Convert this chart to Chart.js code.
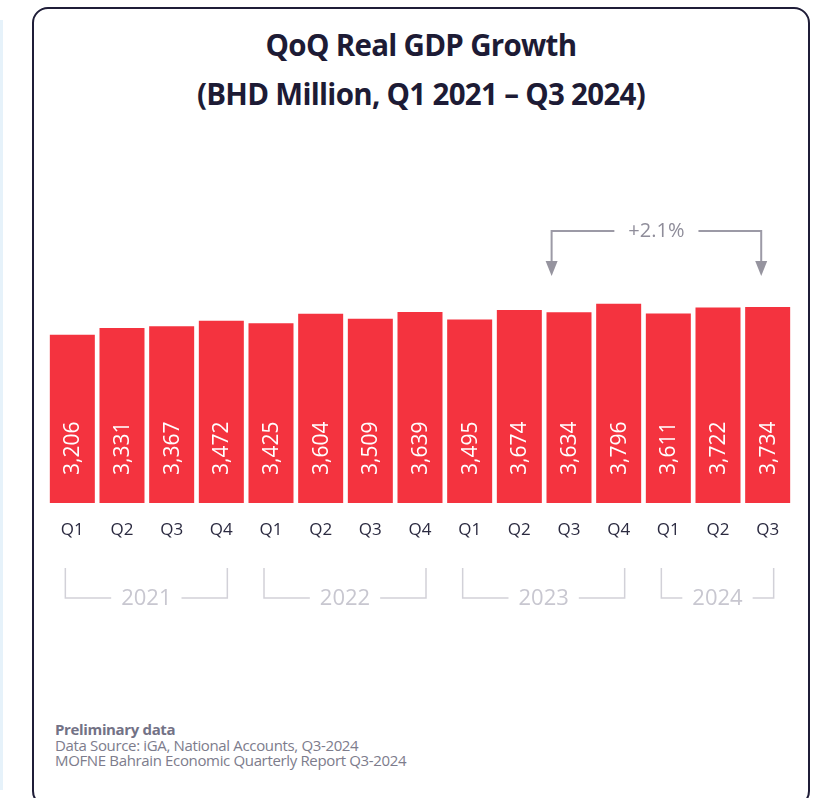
<!DOCTYPE html>
<html>
<head>
<meta charset="utf-8">
<script src="https://cdn.jsdelivr.net/npm/chart.js@4.4.1/dist/chart.umd.min.js"></script>
<style>
    html, body { margin: 0; padding: 0; background: #fff; width: 825px; height: 798px; overflow: hidden; }
    body { position: relative; font-family: "Open Sans", sans-serif; }
    .side-line { position: absolute; left: 0; top: 20px; width: 3px; height: 770px; background: #e6f2fa; }
    .card {
        position: absolute; left: 32px; top: 7px; width: 778px; height: 800px;
        box-sizing: border-box; border: 2.5px solid #1f1d38; border-radius: 16px;
    }
    .title {
        position: absolute; left: 32px; width: 778px; top: 20px; text-align: center;
        color: #1d1b35; font-weight: 700; font-size: 29.5px; line-height: 49px; letter-spacing: -0.7px;
    }
    .footer {
        position: absolute; left: 55px; top: 722px; color: #7d7c8c;
        font-size: 15px; line-height: 15.5px; letter-spacing: -0.35px;
    }
    .footer b { color: #737286; }
    canvas { position: absolute; left: 0; top: 0; }
</style>
</head>
<body>
<div class="side-line"></div>
<div class="card"></div>
<div class="title">QoQ Real GDP Growth<br>(BHD Million, Q1 2021 – Q3 2024)</div>
<div class="footer">
    <b>Preliminary data</b><br>
    Data Source: iGA, National Accounts, Q3-2024<br>
    MOFNE Bahrain Economic Quarterly Report Q3-2024
</div>
<canvas id="gdp-chart" width="825" height="798"></canvas>
<script>
const quarters = ['Q1', 'Q2', 'Q3', 'Q4', 'Q1', 'Q2', 'Q3', 'Q4', 'Q1', 'Q2', 'Q3', 'Q4', 'Q1', 'Q2', 'Q3'];
const gdpValues = [3206, 3331, 3367, 3472, 3425, 3604, 3509, 3639, 3495, 3674, 3634, 3796, 3611, 3722, 3734];
const years = ['2021', '2022', '2023', '2024'];
const quartersPerYear = [4, 4, 4, 3];
const growthFrom = 10;
const growthTo = 14;
const growthLabel = '+2.1%';

const barColor = '#F4333F';

// white value labels, written upwards inside each bar
const barLabels = {
    id: 'barLabels',
    afterDatasetsDraw(chart) {
        const ctx = chart.ctx;
        const base = chart.scales.y.getPixelForValue(0);
        ctx.save();
        ctx.fillStyle = '#ffffff';
        ctx.font = '400 21px "Open Sans"';
        ctx.textAlign = 'left';
        ctx.textBaseline = 'middle';
        chart.getDatasetMeta(0).data.forEach((bar, i) => {
            ctx.save();
            ctx.translate(bar.x + 1, base - 28);
            ctx.rotate(-Math.PI / 2);
            ctx.fillText(gdpValues[i].toLocaleString('en-US'), 0, 0);
            ctx.restore();
        });
        ctx.restore();
    }
};

// year brackets under the quarter ticks
const yearBrackets = {
    id: 'yearBrackets',
    afterDraw(chart) {
        const ctx = chart.ctx;
        const x = chart.scales.x;
        const top = 568, bottom = 598;
        ctx.save();
        ctx.strokeStyle = '#d2d1d8';
        ctx.lineWidth = 1.5;
        ctx.fillStyle = '#c8c7d0';
        ctx.font = '400 22px "Open Sans"';
        ctx.textAlign = 'center';
        ctx.textBaseline = 'middle';
        let start = 0;
        years.forEach((year, i) => {
            const end = start + quartersPerYear[i] - 1;
            const left = x.getPixelForValue(start) - 7;
            const right = x.getPixelForValue(end) + 6;
            const mid = (left + right) / 2;
            const half = ctx.measureText(year).width / 2 + 10;
            ctx.beginPath();
            ctx.moveTo(left, top);
            ctx.lineTo(left, bottom);
            ctx.lineTo(mid - half, bottom);
            ctx.moveTo(mid + half, bottom);
            ctx.lineTo(right, bottom);
            ctx.lineTo(right, top);
            ctx.stroke();
            ctx.fillText(year, mid, bottom + 1);
            start = end + 1;
        });
        ctx.restore();
    }
};

// growth arrow between two quarters
const growthArrow = {
    id: 'growthArrow',
    afterDraw(chart) {
        const ctx = chart.ctx;
        const x = chart.scales.x;
        const step = x.getPixelForValue(1) - x.getPixelForValue(0);
        const x1 = x.getPixelForValue(growthFrom) - 0.35 * step;
        const x2 = x.getPixelForValue(growthTo) - 0.13 * step;
        const lineY = 231, tipY = 276;
        ctx.save();
        ctx.font = '400 20px "Open Sans"';
        const mid = (x1 + x2) / 2;
        const half = ctx.measureText(growthLabel).width / 2 + 14;
        ctx.strokeStyle = '#9c9aa6';
        ctx.fillStyle = '#96949f';
        ctx.lineWidth = 2;
        ctx.beginPath();
        ctx.moveTo(x1, tipY - 12);
        ctx.lineTo(x1, lineY);
        ctx.lineTo(mid - half, lineY);
        ctx.moveTo(mid + half, lineY);
        ctx.lineTo(x2, lineY);
        ctx.lineTo(x2, tipY - 12);
        ctx.stroke();
        [x1, x2].forEach(px => {
            ctx.beginPath();
            ctx.moveTo(px - 6, tipY - 15);
            ctx.lineTo(px + 6, tipY - 15);
            ctx.lineTo(px, tipY);
            ctx.closePath();
            ctx.fill();
        });
        ctx.fillStyle = '#8f8d9a';
        ctx.textAlign = 'center';
        ctx.textBaseline = 'middle';
        ctx.fillText(growthLabel, mid, lineY);
        ctx.restore();
    }
};

new Chart(document.getElementById('gdp-chart'), {
    type: 'bar',
    data: {
        labels: quarters,
        datasets: [{
            data: gdpValues,
            backgroundColor: barColor,
            borderWidth: 0,
            barPercentage: 0.906,
            categoryPercentage: 1
        }]
    },
    options: {
        responsive: false,
        animation: false,
        events: [],
        layout: { padding: { top: 293, left: 47.5, right: 32.5, bottom: 0 } },
        plugins: {
            legend: { display: false },
            tooltip: { enabled: false }
        },
        scales: {
            x: {
                grid: { display: false, drawTicks: false },
                border: { display: false },
                ticks: {
                    color: '#2b2a40',
                    font: { family: 'Open Sans', size: 17 },
                    padding: 17,
                    maxRotation: 0,
                    autoSkip: false
                },
                afterFit: (scale) => { scale.height = 295; }
            },
            y: {
                display: false,
                min: 0,
                max: 4000
            }
        }
    },
    plugins: [barLabels, yearBrackets, growthArrow]
});
</script>
</body>
</html>
